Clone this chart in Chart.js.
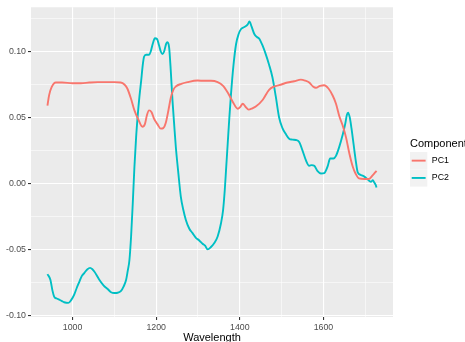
<!DOCTYPE html>
<html>
<head>
<meta charset="utf-8">
<script src="https://cdn.jsdelivr.net/npm/chart.js@4/dist/chart.umd.min.js"></script>
<style>
  html, body { margin: 0; padding: 0; background: #ffffff; }
  #wrap { width: 465px; height: 342px; }
</style>
</head>
<body>
<div id="wrap"><canvas id="pcChart" width="465" height="342"></canvas></div>
<script>
// values
const seriesNames = ["PC1", "PC2"];
const seriesColors = ["#F8766D", "#00BFC4"];

const pc1Wavelength = [940, 944, 950, 960, 975, 1000, 1020, 1040, 1060, 1080, 1100, 1115, 1124, 1131, 1140,
  1148, 1158, 1167, 1173, 1178, 1183, 1189, 1195, 1203, 1211, 1217, 1223, 1229, 1235, 1241, 1247, 1260,
  1275, 1299, 1315, 1331, 1347, 1360, 1371, 1383, 1395, 1401, 1407, 1414, 1421, 1430, 1439, 1455, 1470,
  1482, 1494, 1514, 1530, 1546, 1556, 1566, 1575, 1582, 1592, 1602, 1612, 1622, 1630, 1638, 1646, 1654,
  1662, 1670, 1677, 1685, 1697, 1709, 1717, 1727];
const pc1Values = [0.059, 0.067, 0.073, 0.0765, 0.0765, 0.076, 0.076, 0.0765, 0.0768, 0.0768, 0.0768, 0.0765,
  0.075, 0.072, 0.064, 0.0554, 0.048, 0.043, 0.045, 0.052, 0.0554, 0.054, 0.049, 0.045, 0.0416, 0.042, 0.046,
  0.055, 0.065, 0.071, 0.0735, 0.0755, 0.0768, 0.078, 0.0778, 0.0778, 0.0768, 0.074, 0.069, 0.062, 0.0567,
  0.058, 0.0605, 0.058, 0.056, 0.057, 0.0585, 0.0635, 0.071, 0.0735, 0.0745, 0.0765, 0.0775, 0.0787, 0.078,
  0.0765, 0.0735, 0.0725, 0.074, 0.0745, 0.072, 0.0667, 0.0605, 0.051, 0.044, 0.035, 0.0228, 0.013, 0.0075,
  0.0039, 0.0035, 0.0035, 0.006, 0.0097];

const pc2Wavelength = [940, 947, 952, 956, 962, 968, 975, 980, 990, 997, 1004, 1010, 1016, 1022, 1028, 1035,
  1042, 1048, 1052, 1058, 1064, 1074, 1084, 1092, 1100, 1108, 1116, 1122, 1128, 1132, 1136, 1140, 1144,
  1148, 1152, 1156, 1160, 1164, 1168, 1171, 1176, 1183, 1187, 1192, 1197, 1202, 1207, 1211, 1215, 1219,
  1224, 1227, 1231, 1235, 1239, 1243, 1247, 1253, 1259, 1265, 1271, 1279, 1287, 1295, 1303, 1311, 1317,
  1323, 1331, 1339, 1347, 1355, 1360, 1364, 1367, 1371, 1375, 1379, 1385, 1391, 1397, 1403, 1411, 1419,
  1423, 1428, 1435, 1441, 1447, 1455, 1462, 1470, 1478, 1486, 1494, 1502, 1510, 1518, 1526, 1534, 1542,
  1550, 1558, 1566, 1572, 1578, 1586, 1594, 1602, 1610, 1616, 1624, 1630, 1638, 1646, 1652, 1656, 1659,
  1663, 1667, 1672, 1677, 1682, 1690, 1697, 1705, 1710, 1714, 1718, 1722, 1725, 1727];
const pc2Values = [-0.0685, -0.0728, -0.081, -0.0855, -0.087, -0.0878, -0.089, -0.0898, -0.0903, -0.088,
  -0.084, -0.079, -0.0745, -0.07, -0.0677, -0.065, -0.0638, -0.065, -0.0665, -0.0695, -0.0728, -0.077,
  -0.0798, -0.0822, -0.0828, -0.0826, -0.0812, -0.078, -0.073, -0.066, -0.058, -0.04, -0.015, 0.0127,
  0.035, 0.052, 0.066, 0.0775, 0.09, 0.096, 0.0975, 0.0975, 0.1, 0.106, 0.11, 0.1095, 0.1045, 0.1, 0.098,
  0.1, 0.106, 0.107, 0.103, 0.085, 0.063, 0.045, 0.0277, 0.008, -0.01, -0.02, -0.0275, -0.034, -0.0375,
  -0.041, -0.043, -0.0455, -0.047, -0.0498, -0.048, -0.045, -0.04, -0.03, -0.02, -0.005, 0.01, 0.03, 0.05,
  0.068, 0.09, 0.1055, 0.113, 0.117, 0.1185, 0.1205, 0.1228, 0.119, 0.113, 0.111, 0.1095, 0.104, 0.098,
  0.09, 0.0805, 0.066, 0.05, 0.042, 0.0375, 0.034, 0.0333, 0.033, 0.0315, 0.025, 0.0177, 0.0135, 0.014,
  0.0135, 0.0095, 0.0077, 0.008, 0.013, 0.019, 0.019, 0.021, 0.028, 0.037, 0.045, 0.052, 0.0537, 0.05,
  0.042, 0.03, 0.018, 0.0085, 0.0065, 0.0055, 0.0035, 0.002, 0.0014, 0.0025, 0.0006, -0.001, -0.003];

const xGridValues = [1000, 1100, 1200, 1300, 1400, 1500, 1600, 1700];
const xTickLabels = [1000, 1200, 1400, 1600];
const yGridValues = [-0.1, -0.075, -0.05, -0.025, 0, 0.025, 0.05, 0.075, 0.1, 0.125];
const yTickLabels = ["-0.10", "-0.05", "0.00", "0.05", "0.10"];

const FONT = "'Liberation Sans', Arial, sans-serif";

function toPoints(xs, ys) {
  return xs.map((x, i) => ({ x: x, y: ys[i] }));
}

function isMajorY(v) {
  return Math.abs(Math.round(v * 1000)) % 50 === 0;
}

function yLabel(v) {
  const s = v.toFixed(2);
  return yTickLabels.includes(s) ? s : (s === "-0.00" ? "0.00" : "");
}

// grey panel like ggplot
const panelBackground = {
  id: "panelBackground",
  beforeDraw(chart) {
    const { ctx, chartArea: a } = chart;
    ctx.save();
    ctx.fillStyle = "#ffffff";
    ctx.fillRect(0, 0, chart.width, chart.height);
    ctx.fillStyle = "#EBEBEB";
    ctx.fillRect(a.left, a.top, a.right - a.left, a.bottom - a.top);
    ctx.restore();
  }
};

// ggplot style legend on the right
const sideLegend = {
  id: "sideLegend",
  afterDraw(chart) {
    const ctx = chart.ctx;
    const left = 410, top = 152, key = 17.3;
    ctx.save();
    ctx.fillStyle = "#000000";
    ctx.font = "11px " + FONT;
    ctx.textBaseline = "alphabetic";
    ctx.fillText("Component", left, 147);
    chart.data.datasets.forEach((ds, i) => {
      const y0 = top + i * key;
      ctx.fillStyle = "#F2F2F2";
      ctx.fillRect(left, y0, key, key);
      ctx.strokeStyle = ds.borderColor;
      ctx.lineWidth = 1.9;
      ctx.beginPath();
      ctx.moveTo(left + 1.7, y0 + key / 2);
      ctx.lineTo(left + key - 1.7, y0 + key / 2);
      ctx.stroke();
      ctx.fillStyle = "#000000";
      ctx.font = "8.8px " + FONT;
      ctx.textBaseline = "middle";
      ctx.fillText(ds.label, left + key + 4.5, y0 + key / 2);
    });
    ctx.restore();
  }
};

const canvas = document.getElementById("pcChart");
new Chart(canvas.getContext("2d"), {
  type: "line",
  data: {
    datasets: [
      {
        label: seriesNames[0],
        data: toPoints(pc1Wavelength, pc1Values),
        borderColor: seriesColors[0],
        borderWidth: 1.9,
        pointRadius: 0,
        cubicInterpolationMode: "monotone",
        fill: false
      },
      {
        label: seriesNames[1],
        data: toPoints(pc2Wavelength, pc2Values),
        borderColor: seriesColors[1],
        borderWidth: 1.9,
        pointRadius: 0,
        cubicInterpolationMode: "monotone",
        fill: false
      }
    ]
  },
  options: {
    responsive: false,
    devicePixelRatio: 1,
    animation: false,
    layout: { padding: { top: 6, right: 72, left: 0, bottom: 0 } },
    plugins: { legend: { display: false }, tooltip: { enabled: false } },
    scales: {
      x: {
        type: "linear",
        min: 900.65,
        max: 1766.35,
        afterBuildTicks: s => { s.ticks = xGridValues.map(v => ({ value: v })); },
        afterFit: s => { s.height = 25; },
        border: { display: false },
        grid: {
          color: "#ffffff",
          lineWidth: c => (xTickLabels.includes(c.tick.value) ? 1.1 : 0.55),
          tickColor: c => (xTickLabels.includes(c.tick.value) ? "#333333" : "rgba(0,0,0,0)"),
          tickLength: 3,
          drawTicks: true
        },
        ticks: {
          autoSkip: false,
          maxRotation: 0,
          padding: 2,
          color: "#4D4D4D",
          font: { family: FONT, size: 8.8 },
          callback: v => (xTickLabels.includes(v) ? String(v) : "")
        },
        title: {
          display: true,
          text: "Wavelength",
          color: "#000000",
          font: { family: FONT, size: 11 },
          padding: { top: 0, bottom: -2.5 }
        }
      },
      y: {
        type: "linear",
        min: -0.10096,
        max: 0.13346,
        afterBuildTicks: s => { s.ticks = yGridValues.map(v => ({ value: v })); },
        afterFit: s => { s.width = 31; },
        border: { display: false },
        grid: {
          color: "#ffffff",
          lineWidth: c => (isMajorY(c.tick.value) ? 1.1 : 0.55),
          tickColor: c => (isMajorY(c.tick.value) ? "#333333" : "rgba(0,0,0,0)"),
          tickLength: 3,
          drawTicks: true
        },
        ticks: {
          autoSkip: false,
          padding: 2,
          color: "#4D4D4D",
          font: { family: FONT, size: 8.8 },
          callback: v => yLabel(v)
        }
      }
    }
  },
  plugins: [panelBackground, sideLegend]
});
</script>
</body>
</html>
